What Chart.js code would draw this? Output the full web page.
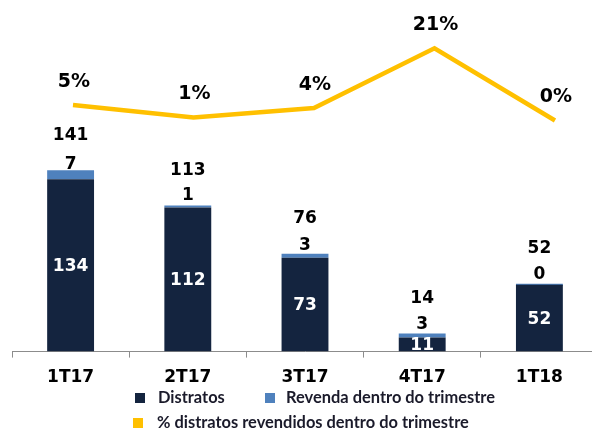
<!DOCTYPE html>
<html>
<head>
<meta charset="utf-8">
<script src="https://cdn.jsdelivr.net/npm/chart.js@4/dist/chart.umd.min.js"></script>
<style>
html,body{margin:0;padding:0;background:#fff;overflow:hidden;width:592px;height:432px;}
canvas{display:block;}
</style>
</head>
<body>
<canvas id="c" width="600" height="432"></canvas>
<script>
const categories = ['1T17', '2T17', '3T17', '4T17', '1T18'];
const distratos = [134, 112, 73, 11, 52];
const revenda = [7, 1, 3, 3, 0];
const totals = [141, 113, 76, 14, 52];
const pctRevendidos = [4.6, 0.88, 3.7, 21.4, 0];
const pctLabels = ['5%', '1%', '4%', '21%', '0%'];
const seriesNames = ['Distratos', 'Revenda dentro do trimestre', '% distratos revendidos dentro do trimestre'];

const NAVY = '#14243f';
const BLUE = '#4f81bd';
const GOLD = '#ffc000';
const NUM_FONT = 'bold 17px "DejaVu Sans"';
const PCT_FONT = 'bold 19px "DejaVu Sans"';

const labelPlugin = {
  id: 'labels',
  afterDatasetsDraw(chart) {
    const ctx = chart.ctx;
    const area = chart.chartArea;
    const m0 = chart.getDatasetMeta(0), m1 = chart.getDatasetMeta(1), m2 = chart.getDatasetMeta(2);
    ctx.save();
    ctx.textAlign = 'center';
    ctx.textBaseline = 'middle';
    for (let i = 0; i < categories.length; i++) {
      const d = m0.data[i], r = m1.data[i], p = m2.data[i];
      ctx.font = NUM_FONT;
      ctx.save();
      ctx.beginPath();
      ctx.rect(area.left, area.top, area.right - area.left, area.bottom - area.top);
      ctx.clip();
      ctx.fillStyle = '#fff';
      ctx.fillText(String(distratos[i]), d.x, (d.y + d.base) / 2 + 1);
      ctx.restore();
      ctx.fillStyle = '#000';
      const segC = (r.y + r.base) / 2;
      ctx.fillText(String(revenda[i]), r.x, segC - 10.5);
      ctx.fillText(String(totals[i]), r.x, r.y - 35);
      ctx.font = PCT_FONT;
      ctx.fillText(pctLabels[i], p.x + 1, p.y - 23);
    }
    ctx.restore();
  }
};

const legendPlugin = {
  id: 'customLegend',
  afterDraw(chart) {
    const ctx = chart.ctx;
    ctx.save();
    ctx.textBaseline = 'middle';
    ctx.textAlign = 'left';
    let size = 16;
    ctx.font = 'bold ' + size + 'px Lato';
    const w = ctx.measureText(seriesNames[1]).width;
    size = size * 209 / w;
    ctx.font = 'bold ' + size.toFixed(2) + 'px Lato';
    const items = [
      {c: NAVY, sx: 135, sy: 393, tx: 158, ty: 398, t: seriesNames[0]},
      {c: BLUE, sx: 265, sy: 393, tx: 286, ty: 398, t: seriesNames[1]},
      {c: GOLD, sx: 133, sy: 418, tx: 157, ty: 423, t: seriesNames[2]}
    ];
    items.forEach(it => {
      ctx.fillStyle = it.c;
      ctx.fillRect(it.sx, it.sy, 10, 10);
      ctx.fillStyle = '#1a1a2a';
      ctx.fillText(it.t, it.tx, it.ty);
    });
    ctx.restore();
  }
};

new Chart(document.getElementById('c'), {
  data: {
    labels: categories,
    datasets: [
      {type: 'bar', label: seriesNames[0], data: distratos, backgroundColor: NAVY, stack: 's', order: 2,
       categoryPercentage: 1, barPercentage: 0.4, grouped: false},
      {type: 'bar', label: seriesNames[1], data: revenda, backgroundColor: BLUE, stack: 's', order: 2,
       categoryPercentage: 1, barPercentage: 0.4, minBarLength: 2, grouped: false},
      {type: 'line', label: seriesNames[2], data: pctRevendidos.map((v, i) => ({x: i, y: v})),
       xAxisID: 'x2', yAxisID: 'y2', borderColor: GOLD, borderWidth: 4.5, pointRadius: 0,
       tension: 0, fill: false, order: 1, borderJoinStyle: 'miter'}
    ]
  },
  options: {
    responsive: false,
    animation: false,
    layout: {padding: {left: 12, right: 2, top: 0, bottom: 34}},
    plugins: {legend: {display: false}, tooltip: {enabled: false}, title: {display: false}},
    scales: {
      x: {
        type: 'category', stacked: true, offset: true,
        grid: {display: true, drawOnChartArea: false, drawTicks: true, tickLength: 6, color: '#8c8c8c', offset: true},
        border: {display: true, color: '#8c8c8c', width: 1},
        ticks: {font: {family: 'DejaVu Sans', weight: 'bold', size: 17}, color: '#000', padding: 10, maxRotation: 0}
      },
      y: {display: false, stacked: true, min: 0, max: 273.4},
      x2: {type: 'linear', display: false, min: -0.506, max: 4.357},
      y2: {type: 'linear', display: false, min: -68.4, max: 35.67}
    }
  },
  plugins: [labelPlugin, legendPlugin]
});
</script>
</body>
</html>
